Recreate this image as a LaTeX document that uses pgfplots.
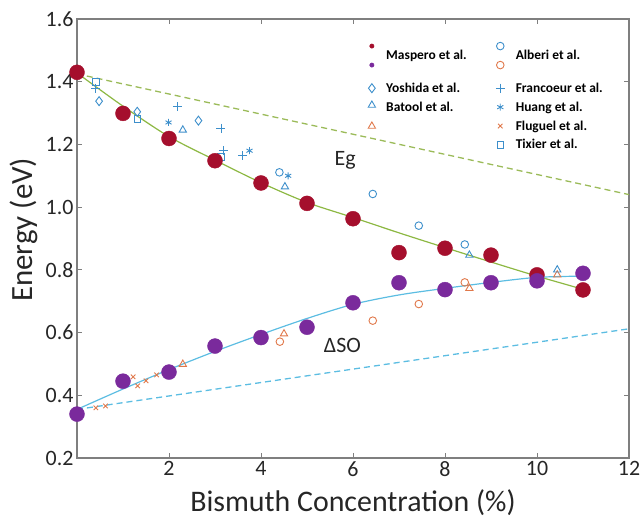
\documentclass[border=0pt]{standalone}
\usepackage{fontspec}
\setmainfont{Carlito}
\usepackage{pgfplots}
\pgfplotsset{compat=1.18}
\definecolor{mred}{HTML}{A50F2D}
\definecolor{mpurple}{HTML}{7A2A9C}
\definecolor{mblue}{HTML}{3D8FCB}
\definecolor{morange}{HTML}{E0784A}
\definecolor{lgreen}{HTML}{8DB843}
\definecolor{dgreen}{HTML}{9BBB59}
\definecolor{lblue}{HTML}{5CBDE2}
\definecolor{axgray}{HTML}{7F7F7F}
\definecolor{txt}{HTML}{262626}
\begin{document}
\begin{tikzpicture}
\begin{axis}[
 scale only axis, width=552bp, height=439bp,
 xmin=0, xmax=12, ymin=0.2, ymax=1.6,
 xtick={2,4,6,8,10,12}, ytick={0.2,0.4,0.6,0.8,1.0,1.2,1.4,1.6},
 /pgf/number format/assume math mode=true,
 yticklabel style={/pgf/number format/.cd, fixed, fixed zerofill, precision=1},
 axis line style={axgray, line width=1.2bp},
 tick style={axgray, line width=1bp}, major tick length=5bp,
 ticklabel style={font=\fontsize{22}{26}\selectfont, text=txt},
 xlabel={Bismuth Concentration (\%)}, ylabel={Energy (eV)},
 xlabel style={font=\fontsize{30}{36}\selectfont, text=txt, at={(axis description cs:0.5,-0.1025)}, anchor=center},
 ylabel style={font=\fontsize{31}{37}\selectfont, text=txt, at={(axis description cs:-0.096,0.52)}, anchor=center},
 legend style={draw=none, fill=none, at={(rel axis cs:0.513,0.953)}, anchor=north west,
   font=\bfseries\fontsize{13.5}{16}\selectfont, row sep=4bp, cells={anchor=west},
   /tikz/every odd column/.append style={column sep=9bp},
   /tikz/every even column/.append style={column sep=27bp}},
 legend columns=2,
]
% fitted and reference lines
\addplot[lgreen, line width=1.2bp, smooth, forget plot] coordinates {(0,1.428)(1,1.322)(2,1.225)(3,1.15)(4,1.078)(5,1.015)(6,0.967)(7,0.918)(8,0.871)(9,0.825)(10,0.78)(11,0.738)};
\addplot[lblue, line width=1.2bp, smooth, forget plot] coordinates {(0,0.355)(1,0.42)(2,0.482)(3,0.54)(4,0.594)(5,0.645)(6,0.69)(7,0.72)(8,0.741)(9,0.76)(10,0.776)(11,0.78)};
\addplot[dgreen, line width=1.3bp, dash pattern=on 6bp off 4bp, forget plot] coordinates {(0,1.425)(12,1.04)};
\addplot[lblue, line width=1.3bp, dash pattern=on 6bp off 4bp, forget plot] coordinates {(0,0.355)(12,0.612)};
% literature data
\addplot[only marks, mark=triangle, mark size=4.2bp, color=morange, mark options={solid, draw=morange, line width=0.9bp}, forget plot] coordinates {(0,0.345)(2.3,0.499)(4.5,0.596)(8.53,0.741)(10.44,0.784)};
\addplot[only marks, mark=triangle, mark size=4.2bp, color=mblue, mark options={solid, draw=mblue, line width=0.9bp}, forget plot] coordinates {(2.3,1.246)(4.52,1.065)(8.53,0.847)(10.44,0.80)};
\addplot[only marks, mark=o, mark size=3.8bp, color=mblue, mark options={solid, draw=mblue, line width=0.9bp}, forget plot] coordinates {(4.4,1.111)(6.43,1.042)(7.43,0.941)(8.43,0.881)};
\addplot[only marks, mark=o, mark size=3.8bp, color=morange, mark options={solid, draw=morange, line width=0.9bp}, forget plot] coordinates {(4.41,0.571)(6.43,0.638)(7.43,0.691)(8.43,0.76)};
\addplot[only marks, mark=diamond, mark size=4.5bp, color=mblue, mark options={solid, draw=mblue, line width=0.9bp}, forget plot] coordinates {(0.48,1.338)(1.31,1.304)(2.64,1.276)};
\addplot[only marks, mark=+, mark size=4.5bp, color=mblue, mark options={solid, draw=mblue, line width=0.9bp}, forget plot] coordinates {(0.41,1.379)(2.18,1.32)(3.13,1.251)(3.18,1.18)(3.6,1.164)};
\addplot[only marks, mark=asterisk, mark size=3.5bp, color=mblue, mark options={solid, draw=mblue, line width=0.9bp}, forget plot] coordinates {(1.99,1.27)(3.75,1.18)(4.59,1.10)};
\addplot[only marks, mark=x, mark size=3.2bp, color=morange, mark options={solid, draw=morange, line width=0.9bp}, forget plot] coordinates {(0.41,0.36)(0.62,0.366)(1.22,0.459)(1.32,0.43)(1.5,0.446)(1.73,0.465)};
\addplot[only marks, mark=square, mark size=3.3bp, color=mblue, mark options={solid, draw=mblue, line width=0.9bp}, forget plot] coordinates {(0.41,1.40)(1.31,1.281)(3.13,1.16)};
% Maspero et al.
\addplot[only marks, mark=*, mark size=7.5bp, color=mred, mark options={draw=mred, fill=mred}, forget plot] coordinates {(0,1.43)(1,1.299)(2,1.219)(3,1.148)(4,1.077)(5,1.012)(6,0.963)(7,0.855)(8,0.869)(9,0.847)(10,0.784)(11,0.736)};
\addplot[only marks, mark=*, mark size=7.5bp, color=mpurple, mark options={draw=mpurple, fill=mpurple}, forget plot] coordinates {(0,0.34)(1,0.445)(2,0.474)(3,0.557)(4,0.584)(5,0.617)(6,0.695)(7,0.759)(8,0.737)(9,0.759)(10,0.765)(11,0.789)};
\node[font=\fontsize{22}{26}\selectfont, text=txt] at (axis cs:5.83,1.15) {Eg};
\node[font=\fontsize{22}{26}\selectfont, text=txt] at (axis cs:5.77,0.56) {ΔSO};
% legend
\addlegendimage{legend image code/.code={\path (0.3cm,-21bp) (0.3cm,12bp); \fill[mred] (0.3cm,9.5bp) circle (2.2bp); \fill[mpurple] (0.3cm,-9.5bp) circle (2.2bp);}}
\addlegendentry{Maspero et al.}
\addlegendimage{legend image code/.code={\path (0.3cm,-21bp) (0.3cm,12bp); \draw[mblue, line width=0.9bp] (0.3cm,9.5bp) circle (3.8bp); \draw[morange, line width=0.9bp] (0.3cm,-9.5bp) circle (3.8bp);}}
\addlegendentry{Alberi et al.}
\addlegendimage{only marks, mark=diamond, mark size=4.5bp, color=mblue, mark options={solid, draw=mblue, line width=0.9bp}}
\addlegendentry{Yoshida et al.}
\addlegendimage{only marks, mark=+, mark size=4.5bp, color=mblue, mark options={solid, draw=mblue, line width=0.9bp}}
\addlegendentry{Francoeur et al.}
\addlegendimage{legend image code/.code={\draw[overlay, mblue, line width=0.9bp] (0.3cm,2bp) +(90:4.2bp) -- +(210:4.2bp) -- +(330:4.2bp) -- cycle; \draw[overlay, morange, line width=0.9bp] (0.3cm,-19bp) +(90:4.2bp) -- +(210:4.2bp) -- +(330:4.2bp) -- cycle;}}
\addlegendentry{Batool et al.}
\addlegendimage{only marks, mark=asterisk, mark size=3.5bp, color=mblue, mark options={solid, draw=mblue, line width=0.9bp}}
\addlegendentry{Huang et al.}
\addlegendimage{empty legend}
\addlegendentry{}
\addlegendimage{only marks, mark=x, mark size=3.2bp, color=morange, mark options={solid, draw=morange, line width=0.9bp}}
\addlegendentry{Fluguel et al.}
\addlegendimage{empty legend}
\addlegendentry{}
\addlegendimage{only marks, mark=square, mark size=3.3bp, color=mblue, mark options={solid, draw=mblue, line width=0.9bp}}
\addlegendentry{Tixier et al.}
\end{axis}
\pgfresetboundingbox
\path (current axis.south west) ++(-77bp,-62bp) coordinate (bbA);
\path (current axis.north east) ++(15bp,19bp) coordinate (bbB);
\path (bbA) rectangle (bbB);
\end{tikzpicture}
\end{document}
